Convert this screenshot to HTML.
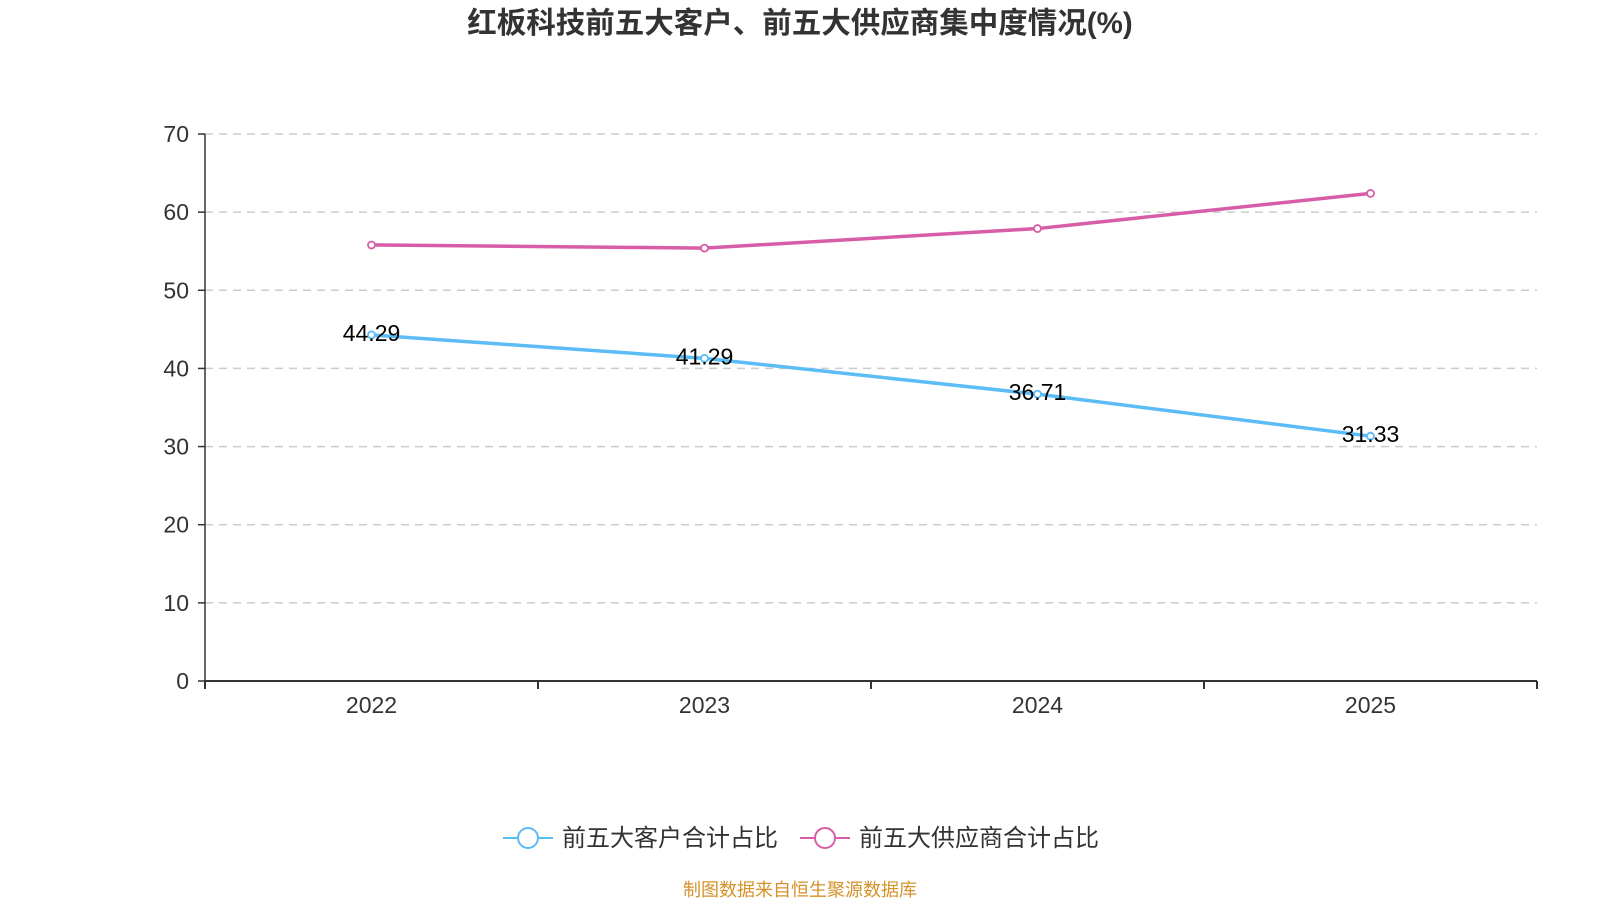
<!DOCTYPE html>
<html><head><meta charset="utf-8"><style>
body{margin:0;background:#fff;width:1600px;height:900px;overflow:hidden}
svg{font-family:"Liberation Sans","Noto Sans CJK SC",sans-serif}
</style></head><body>
<svg id="c" width="1600" height="900">
<text x="800" y="33" text-anchor="middle" font-size="29.5" font-weight="bold" fill="#333">红板科技前五大客户、前五大供应商集中度情况(%)</text>
<g id="grid"></g><g id="axes"></g><g id="series"></g>
<g>
<g>
<line x1="503" y1="838" x2="553" y2="838" stroke="#5bbcf6" stroke-width="2"/>
<circle cx="528" cy="838" r="10" fill="#fff" stroke="#5bbcf6" stroke-width="2"/>
<text x="562" y="846" font-size="24" fill="#333">前五大客户合计占比</text></g>
<g>
<line x1="800" y1="838" x2="850" y2="838" stroke="#d85da8" stroke-width="2"/>
<circle cx="825" cy="838" r="10" fill="#fff" stroke="#d85da8" stroke-width="2"/>
<text x="859" y="846" font-size="24" fill="#333">前五大供应商合计占比</text></g>
</g>
<text x="800" y="896" text-anchor="middle" font-size="18" fill="#d4922a">制图数据来自恒生聚源数据库</text>
</svg>
<script>
const categories=["2022","2023","2024","2025"];
const customers=[44.29,41.29,36.71,31.33];
const suppliers=[55.8,55.4,57.9,62.4];
const yTicks=[0,10,20,30,40,50,60,70];
const NS="http://www.w3.org/2000/svg";
const L=205,R=1537,T=134,B=681,yMax=70;
const bw=(R-L)/categories.length;
const xs=i=>L+bw*(i+0.5);
const ys=v=>B-(v/yMax)*(B-T);
function mk(p,tag,a){const e=document.createElementNS(NS,tag);for(const k in a)e.setAttribute(k,a[k]);p.appendChild(e);return e;}
const grid=document.getElementById('grid'),axes=document.getElementById('axes'),ser=document.getElementById('series');
yTicks.forEach(t=>{
 if(t>0){const g=mk(grid,'line',{x1:L,x2:R,y1:ys(t),y2:ys(t),stroke:'#ccc','stroke-dasharray':'8,6','stroke-width':1.5});
 
 }
 mk(axes,'line',{x1:L-7,x2:L,y1:ys(t),y2:ys(t),stroke:'#333','stroke-width':1.5});
 const tx=mk(axes,'text',{x:L-16,y:ys(t)+8,'text-anchor':'end','font-size':23,fill:'#333'});tx.textContent=t;
 
 
});
mk(axes,'line',{x1:L,x2:L,y1:T,y2:B,stroke:'#333','stroke-width':1.5});
mk(axes,'line',{x1:L,x2:R,y1:B,y2:B,stroke:'#333','stroke-width':2});
for(let i=0;i<=categories.length;i++)mk(axes,'line',{x1:L+bw*i,x2:L+bw*i,y1:B,y2:B+8,stroke:'#333','stroke-width':2});
categories.forEach((c,i)=>{const t=mk(axes,'text',{x:xs(i),y:B+32,'text-anchor':'middle','font-size':23,fill:'#333'});t.textContent=c;
 
 });
function line(vals,color,name,labels){
 const p=mk(ser,'polyline',{points:vals.map((v,i)=>xs(i)+','+ys(v)).join(' '),fill:'none',stroke:color,'stroke-width':3.5});
 
 
 vals.forEach((v,i)=>{const c=mk(ser,'circle',{cx:xs(i),cy:ys(v),r:3.5,fill:'#fff',stroke:color,'stroke-width':1.8});
  
  
  if(labels){const t=mk(ser,'text',{x:xs(i),y:ys(v)+6,'text-anchor':'middle','font-size':23,fill:'#000'});t.textContent=v.toFixed(2);
   
   }
 });
}
line(suppliers,'#d85da8','suppliers',false);
line(customers,'#5bbcf6','customers',true);
</script>
</body></html>
